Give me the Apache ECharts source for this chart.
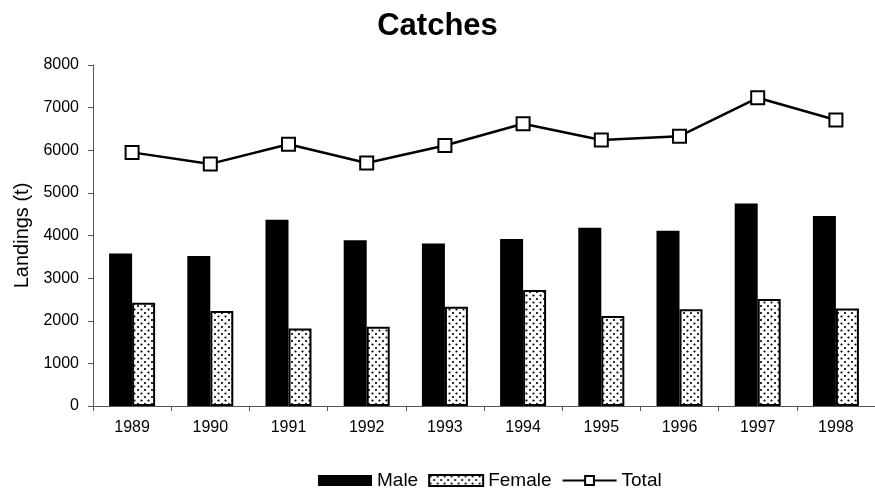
<!DOCTYPE html>
<html>
<head>
<meta charset="utf-8">
<script src="https://cdn.jsdelivr.net/npm/echarts@6/dist/echarts.min.js"></script>
<style>
  html, body { margin: 0; padding: 0; background: #fff; }
  #chart { width: 875px; height: 495px; }
</style>
</head>
<body>
<div id="chart"></div>
<script>
// data
const years = ['1989', '1990', '1991', '1992', '1993', '1994', '1995', '1996', '1997', '1998']
const male = [3580, 3520, 4370, 3890, 3810, 3920, 4180, 4110, 4750, 4460]
const female = [2420, 2230, 1820, 1860, 2330, 2720, 2110, 2270, 2510, 2290]
const total = [5950, 5680, 6140, 5700, 6110, 6620, 6240, 6330, 7230, 6710]
const yTicks = [0, 1000, 2000, 3000, 4000, 5000, 6000, 7000, 8000]

// dotted fill for the female bars
function dotPattern() {
  const c = document.createElement('canvas')
  c.width = 7
  c.height = 7
  const ctx = c.getContext('2d')
  ctx.fillStyle = '#fff'
  ctx.fillRect(0, 0, 7, 7)
  ctx.fillStyle = '#000'
  ctx.beginPath()
  ctx.arc(1.5, 1.5, 1.1, 0, Math.PI * 2)
  ctx.arc(5, 5, 1.1, 0, Math.PI * 2)
  ctx.fill()
  return c
}

const font = 'Liberation Sans, Arial, sans-serif'
const myChart = echarts.init(document.getElementById('chart'))

myChart.setOption({
  animation: false,
  title: {
    text: 'Catches',
    left: 'center',
    top: 6,
    textStyle: { fontFamily: font, fontSize: 31, fontWeight: 'bold', color: '#000' }
  },
  legend: {
    top: 466,
    left: 313,
    itemWidth: 54,
    itemHeight: 11,
    itemGap: 10,
    textStyle: { fontFamily: font, fontSize: 19, color: '#000' },
    data: [
      { name: 'Male', icon: 'rect' },
      { name: 'Female', icon: 'rect' },
      { name: 'Total' }
    ]
  },
  grid: {
    left: 93,
    right: 0,
    top: 65,
    bottom: 89
  },
  xAxis: {
    type: 'category',
    data: years,
    axisLine: { lineStyle: { color: '#555', width: 1 } },
    axisTick: { show: true, length: 5, lineStyle: { color: '#555' } },
    axisLabel: { fontFamily: font, fontSize: 16, color: '#000', margin: 14 }
  },
  yAxis: {
    type: 'value',
    min: yTicks[0],
    max: yTicks[yTicks.length - 1],
    interval: 1000,
    name: 'Landings (t)',
    nameLocation: 'middle',
    nameGap: 59,
    nameTextStyle: { fontFamily: font, fontSize: 20, color: '#000' },
    splitLine: { show: false },
    axisLine: { show: true, lineStyle: { color: '#555', width: 1 } },
    axisTick: { show: true, length: 5, lineStyle: { color: '#555' } },
    axisLabel: {
      fontFamily: font,
      fontSize: 16,
      color: '#000',
      margin: 14,
      formatter: (v) => String(v)
    }
  },
  series: [
    {
      name: 'Male',
      type: 'bar',
      data: male,
      barWidth: 23,
      barGap: '0%',
      itemStyle: { color: '#000' }
    },
    {
      name: 'Female',
      type: 'bar',
      data: female,
      barWidth: 23,
      itemStyle: {
        color: { image: dotPattern(), repeat: 'repeat' },
        borderColor: '#000',
        borderWidth: 2
      }
    },
    {
      name: 'Total',
      type: 'line',
      data: total,
      symbol: 'rect',
      symbolSize: 13,
      lineStyle: { color: '#000', width: 2.5 },
      itemStyle: { color: '#fff', borderColor: '#000', borderWidth: 2 }
    }
  ]
})

window.addEventListener('resize', () => {
  myChart.resize()
})
</script>
</body>
</html>
